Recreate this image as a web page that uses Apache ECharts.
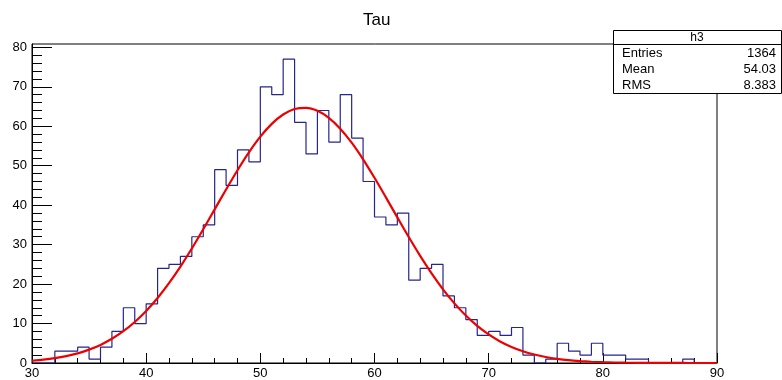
<!DOCTYPE html>
<html>
<head>
<meta charset="utf-8">
<script src="https://cdn.jsdelivr.net/npm/echarts@6/dist/echarts.min.js"></script>
<style>
html,body{margin:0;padding:0;background:#fff;}
#chart{width:782px;height:380px;}
</style>
</head>
<body>
<div id="chart"></div>
<script>
// ---- data ----
const binLowEdges = [30,31,32,33,34,35,36,37,38,39,40,41,42,43,44,45,46,47,48,49,
  50,51,52,53,54,55,56,57,58,59,60,61,62,63,64,65,66,67,68,69,
  70,71,72,73,74,75,76,77,78,79,80,81,82,83,84,85,86,87,88,89];
const binUpperEdge = 90;
const counts = [0,0,3,3,4,1,4,8,14,10,
  15,24,25,27,32,35,49,45,54,51,
  70,68,77,61,53,64,56,68,57,46,
  37,35,38,21,24,25,17,14,11,7,
  8,7,9,2,0,1,5,3,2,5,
  2,2,1,1,0,0,0,1,0,0];
const fitX = [30,31,32,33,34,35,36,37,38,39,40,41,42,43,44,45,46,47,48,49,
  50,51,52,53,54,55,56,57,58,59,60,61,62,63,64,65,66,67,68,69,
  70,71,72,73,74,75,76,77,78,79,80,81,82,83,84,85,86,87,88,89,90];
const fitY = [0.57,0.84,1.22,1.75,2.45,3.39,4.59,6.13,8.05,10.40,
  13.20,16.48,20.24,24.44,29.02,33.90,38.94,43.98,48.86,53.38,
  57.36,60.60,62.97,64.36,64.68,63.93,62.14,59.40,55.84,51.63,
  46.94,41.97,36.91,31.92,27.15,22.71,18.68,15.11,12.02,9.41,
  7.24,5.47,4.07,2.98,2.15,1.52,1.06,0.72,0.49,0.32,
  0.21,0.13,0.08,0.05,0.03,0.02,0.01,0.01,0,0,0];
const xTickLabels = [30,40,50,60,70,80,90];
const yMajorTicks = [0,10,20,30,40,50,60,70,80];
const yMinorTicks = [2,4,6,8,12,14,16,18,22,24,26,28,32,34,36,38,42,44,46,48,
  52,54,56,58,62,64,66,68,72,74,76,78];
const titleText = 'Tau';
const statsName = 'h3';
const statsRows = [['Entries','1364'],['Mean','54.03'],['RMS','8.383']];

// ---- build ----
const histPts = binLowEdges.map((x,i)=>[x,counts[i]]);
histPts.push([binUpperEdge, counts[counts.length-1]]);
const fitPts = fitX.map((x,i)=>[x,fitY[i]]);

const FONT = 'Liberation Sans, Arial, Helvetica, sans-serif';
const chart = echarts.init(document.getElementById('chart'), null, {renderer:'canvas'});

const G = {left:32, top:44, right:782-717, bottom:380-363};
const statsX = 613, statsY = 30, statsW = 168, statsH = 63, headH = 14;

const graphics = [
  {type:'rect', shape:{x:statsX+0.5,y:statsY+0.5,width:statsW,height:statsH}, style:{fill:'#fff',stroke:'#000',lineWidth:1}, z:100},
  {type:'line', shape:{x1:statsX,y1:statsY+headH+0.5,x2:statsX+statsW,y2:statsY+headH+0.5}, style:{stroke:'#000',lineWidth:1}, z:101},
  {type:'text', x:statsX+statsW/2, y:statsY+headH/2+1, style:{text:statsName, font:'12px '+FONT, fill:'#000', align:'center', verticalAlign:'middle'}, z:102}
];
const rowH = (statsH-headH)/statsRows.length;
statsRows.forEach((r,i)=>{
  const cy = statsY+headH+rowH*(i+0.5)+1;
  graphics.push({type:'text', x:statsX+9, y:cy, style:{text:r[0], font:'13px '+FONT, fill:'#000', align:'left', verticalAlign:'middle'}, z:102});
  graphics.push({type:'text', x:statsX+statsW-5, y:cy, style:{text:r[1], font:'13px '+FONT, fill:'#000', align:'right', verticalAlign:'middle'}, z:102});
});

chart.setOption({
  animation:false,
  backgroundColor:'#fff',
  textStyle:{fontFamily:FONT},
  title:{text:titleText, left:358, top:7, textStyle:{fontFamily:FONT, fontSize:17, fontWeight:'normal', color:'#000'}},
  grid:{left:G.left, top:G.top, right:G.right, bottom:G.bottom, show:true, borderColor:'#000', borderWidth:1, containLabel:false},
  xAxis:{
    type:'value', min:30, max:90, interval:10,
    axisLine:{show:true, lineStyle:{color:'#000', width:1}},
    axisTick:{show:true, inside:true, length:10, lineStyle:{color:'#000'}},
    minorTick:{show:true, splitNumber:5, length:5, lineStyle:{color:'#000'}},
    splitLine:{show:false},
    axisLabel:{color:'#000', fontSize:13, margin:4, fontFamily:FONT,
      formatter:(v)=> xTickLabels.indexOf(v)>=0 ? String(v) : ''}
  },
  yAxis:[
    {
      type:'value', min:0, max:80.85, position:'left',
      axisLine:{show:true, lineStyle:{color:'#000', width:1}},
      axisTick:{show:true, inside:true, length:20, lineStyle:{color:'#000'}, customValues:yMajorTicks},
      splitLine:{show:false},
      axisLabel:{color:'#000', fontSize:13, margin:5, fontFamily:FONT, customValues:yMajorTicks}
    },
    {
      type:'value', min:0, max:80.85, position:'left', offset:0,
      axisLine:{show:false},
      axisTick:{show:true, inside:true, length:10, lineStyle:{color:'#000'}, customValues:yMinorTicks},
      splitLine:{show:false},
      axisLabel:{show:false}
    }
  ],
  series:[
    {type:'line', name:'h3', data:histPts, step:'end', symbol:'none', yAxisIndex:0,
      lineStyle:{color:'#25258f', width:1.2}, z:3},
    {type:'line', name:'fit', data:fitPts, smooth:0.3, symbol:'none', yAxisIndex:0,
      lineStyle:{color:'#ee0000', width:2.2}, z:4}
  ],
  graphic:graphics
});
</script>
</body>
</html>
